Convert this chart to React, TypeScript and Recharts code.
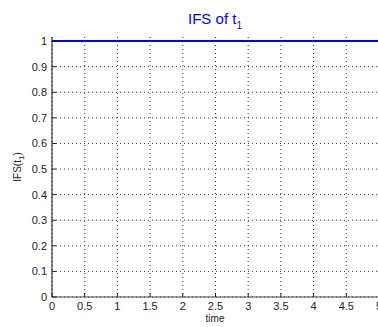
import { LineChart, Line, XAxis, YAxis, CartesianGrid } from 'recharts';

const times = [0, 0.5, 1, 1.5, 2, 2.5, 3, 3.5, 4, 4.5, 5];
const ifsValues = [1, 1, 1, 1, 1, 1, 1, 1, 1, 1, 1];
const xTicks = [0, 0.5, 1, 1.5, 2, 2.5, 3, 3.5, 4, 4.5, 5];
const yTicks = [0, 0.1, 0.2, 0.3, 0.4, 0.5, 0.6, 0.7, 0.8, 0.9, 1];

const data = times.map((t, i) => ({ time: t, ifs: ifsValues[i] }));

const FONT = '"Liberation Sans", Arial, sans-serif';

function BottomTick({ x, y, payload }: any) {
  return (
    <g>
      <line x1={x} y1={y} x2={x} y2={y - 4} stroke="#222" />
      <text x={x} y={y + 13} textAnchor="middle" fontSize={11} fontFamily={FONT} fill="#222">
        {payload.value}
      </text>
    </g>
  );
}

function TopTick({ x, y }: any) {
  return <line x1={x} y1={y} x2={x} y2={y + 4} stroke="#222" />;
}

function LeftTick({ x, y, payload }: any) {
  return (
    <g>
      <line x1={x} y1={y} x2={x + 4} y2={y} stroke="#222" />
      <text x={x - 5} y={y + 4} textAnchor="end" fontSize={11} fontFamily={FONT} fill="#222">
        {payload.value}
      </text>
    </g>
  );
}

export default function App() {
  return (
    <div style={{ position: 'absolute', left: 0, top: 0, width: 378, height: 327, overflow: 'hidden', background: '#fff' }}>
      <LineChart width={390} height={327} data={data} margin={{ top: 37, right: 11, left: 0, bottom: 0 }}>
        <CartesianGrid stroke="#333" strokeDasharray="1 3" horizontalValues={yTicks} verticalValues={xTicks} />
        <XAxis
          dataKey="time"
          type="number"
          domain={[0, 5]}
          ticks={xTicks}
          height={30}
          tickSize={0}
          tickMargin={0}
          tick={<BottomTick />}
          axisLine={{ stroke: '#444' }}
        />
        <XAxis
          xAxisId="top"
          orientation="top"
          dataKey="time"
          type="number"
          domain={[0, 5]}
          ticks={xTicks}
          height={0}
          tickSize={0}
          tickMargin={0}
          tick={<TopTick />}
          axisLine={{ stroke: '#444' }}
        />
        <YAxis
          type="number"
          domain={[0, 1.016]}
          ticks={yTicks}
          width={52}
          tickSize={0}
          tickMargin={0}
          tick={<LeftTick />}
          axisLine={{ stroke: '#111' }}
        />
        <Line dataKey="ifs" stroke="#0000ff" strokeWidth={2} dot={false} isAnimationActive={false} />
      </LineChart>
      <svg width={378} height={327} style={{ position: 'absolute', left: 0, top: 0, pointerEvents: 'none' }}>
        <text x={215} y={24} textAnchor="middle" fontSize={15} fontFamily={FONT} fill="#0000ff">
          IFS of t<tspan fontSize={10} dy={5}>1</tspan>
        </text>
        <text x={215} y={322} textAnchor="middle" fontSize={10} fontFamily={FONT} fill="#222">
          time
        </text>
        <text transform="translate(21,167) rotate(-90)" textAnchor="middle" fontSize={10} fontFamily={FONT} fill="#222">
          IFS(t<tspan fontSize={8} dy={3}>1</tspan><tspan dy={-3}>)</tspan>
        </text>
      </svg>
    </div>
  );
}
